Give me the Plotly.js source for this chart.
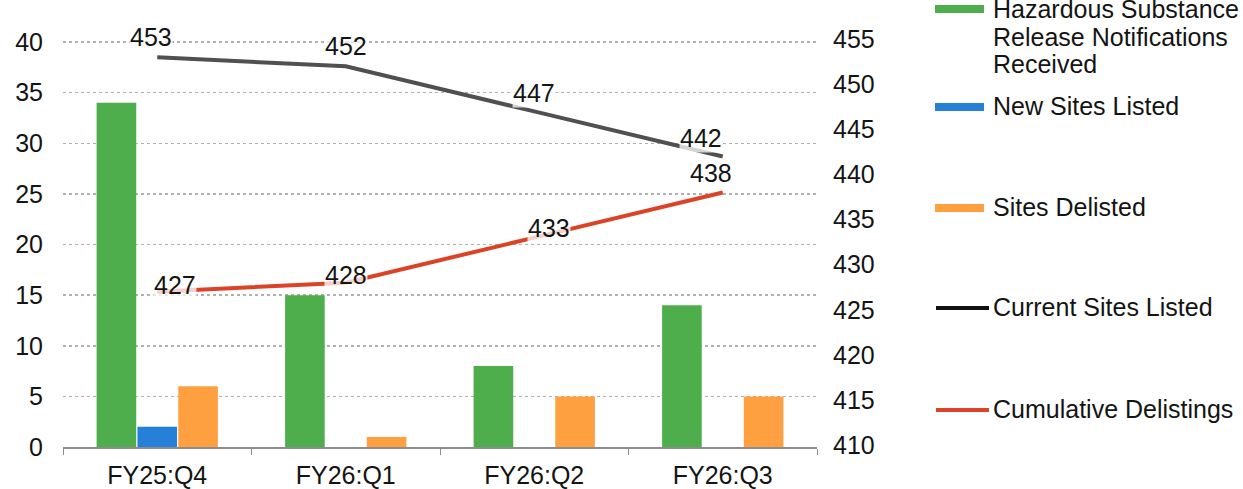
<!DOCTYPE html>
<html>
<head>
<meta charset="utf-8">
<script src="https://cdn.plot.ly/plotly-3.0.1.min.js"></script>
<style>html,body{margin:0;padding:0;background:#fff;}#chart{width:1243px;height:489px;}</style>
</head>
<body>
<div id="chart"></div>
<script>
// ---- data ----
const categories = ["FY25:Q4", "FY26:Q1", "FY26:Q2", "FY26:Q3"];
const hazardousNotifications = [34, 15, 8, 14];
const newSitesListed = [2, 0, 0, 0];
const sitesDelisted = [6, 1, 5, 5];
const currentSitesListed = [453, 452, 447, 442];
const cumulativeDelistings = [427, 428, 433, 438];
const leftTicks = [0, 5, 10, 15, 20, 25, 30, 35, 40];
const rightTicks = [410, 415, 420, 425, 430, 435, 440, 445, 450, 455];

// ---- styling ----
const FONT = "Liberation Sans, Arial, sans-serif";
const FS = 25;
const TXT = "#141414";
const C_GREEN = "#4fae4c", C_BLUE = "#2680d9", C_ORANGE = "#ffa040";
const C_GREY = "#505050", C_RED = "#dc4326";
const W = 1243, H = 489;
const M = {l: 63, r: 426, t: 39, b: 42};
const PW = W - M.l - M.r, PH = H - M.t - M.b;
const px = x => (x - M.l) / PW;          // pixel -> paper x
const py = y => (H - M.b - y) / PH;      // pixel -> paper y

// label offsets (pixels) for data labels
const curOffsets = [[-6, 20], [0, 20], [0, 18], [-22, 18]];
const cumOffsets = [[18, 7], [0, 8], [15, 10], [-12, 20]];

const traces = [
  {type: "bar", name: "Hazardous Substance Release Notifications Received", x: categories, y: hazardousNotifications, marker: {color: C_GREEN}, yaxis: "y"},
  {type: "bar", name: "New Sites Listed", x: categories, y: newSitesListed, marker: {color: C_BLUE}, yaxis: "y"},
  {type: "bar", name: "Sites Delisted", x: categories, y: sitesDelisted, marker: {color: C_ORANGE}, yaxis: "y"},
  {type: "scatter", mode: "lines", name: "Current Sites Listed", x: categories, y: currentSitesListed, line: {color: C_GREY, width: 4}, yaxis: "y2"},
  {type: "scatter", mode: "lines", name: "Cumulative Delistings", x: categories, y: cumulativeDelistings, line: {color: C_RED, width: 4}, yaxis: "y2"}
];

const annotations = [];
function addLabels(vals, offs) {
  vals.forEach((v, i) => annotations.push({
    x: categories[i], y: v, xref: "x", yref: "y2", text: String(v), showarrow: false,
    xshift: offs[i][0], yshift: offs[i][1], bgcolor: "rgba(255,255,255,0.75)", borderpad: 0,
    font: {family: FONT, size: FS, color: TXT}
  }));
}
addLabels(currentSitesListed, curOffsets);
addLabels(cumulativeDelistings, cumOffsets);

// custom legend
const shapes = [];
const legendItems = [
  {lines: ["Hazardous Substance", "Release Notifications", "Received"], color: C_GREEN, kind: "bar", sy: 9, ty: 9},
  {lines: ["New Sites Listed"], color: C_BLUE, kind: "bar", sy: 107, ty: 106},
  {lines: ["Sites Delisted"], color: C_ORANGE, kind: "bar", sy: 208, ty: 207},
  {lines: ["Current Sites Listed"], color: "#111111", kind: "line", sy: 308, ty: 307},
  {lines: ["Cumulative Delistings"], color: C_RED, kind: "line", sy: 410, ty: 409}
];
legendItems.forEach(it => {
  if (it.kind === "bar") {
    shapes.push({type: "rect", xref: "paper", yref: "paper", x0: px(935), x1: px(984), y0: py(it.sy + 4), y1: py(it.sy - 4), fillcolor: it.color, line: {width: 0}});
  } else {
    shapes.push({type: "line", xref: "paper", yref: "paper", x0: px(936), x1: px(989), y0: py(it.sy), y1: py(it.sy), line: {color: it.color, width: 4}});
  }
  it.lines.forEach((t, k) => annotations.push({xref: "paper", yref: "paper", x: px(991), y: py(it.ty + 27.5 * k), xanchor: "left", yanchor: "middle", align: "left",
    text: t, showarrow: false, font: {family: FONT, size: FS, color: TXT}}));
});

const layout = {
  width: W, height: H,
  margin: M,
  paper_bgcolor: "#fff", plot_bgcolor: "#fff",
  barmode: "group", bargap: 0.35, bargroupgap: 0.03,
  showlegend: false,
  font: {family: FONT, size: FS, color: TXT},
  xaxis: {
    type: "category", showline: true, linecolor: "#8c8c8c", linewidth: 1.5,
    ticks: "outside", tickson: "boundaries", ticklen: 6, tickcolor: "#8c8c8c",
    showgrid: false, tickfont: {family: FONT, size: FS, color: TXT}, ticklabelstandoff: 5
  },
  yaxis: {
    range: [0, 40.3], tickvals: leftTicks, showgrid: true, gridcolor: "#b0b0b0", griddash: "dot", gridwidth: 1.5,
    zeroline: false, showline: false, ticks: "", tickfont: {family: FONT, size: FS, color: TXT}, ticklabelstandoff: 19
  },
  yaxis2: {
    overlaying: "y", side: "right", range: [409.78, 455.03], tickvals: rightTicks, showgrid: false, zeroline: false,
    showline: false, ticks: "", tickfont: {family: FONT, size: FS, color: TXT}, ticklabelstandoff: 15
  },
  annotations: annotations,
  shapes: shapes
};

Plotly.newPlot("chart", traces, layout, {staticPlot: true, displayModeBar: false});
</script>
</body>
</html>
